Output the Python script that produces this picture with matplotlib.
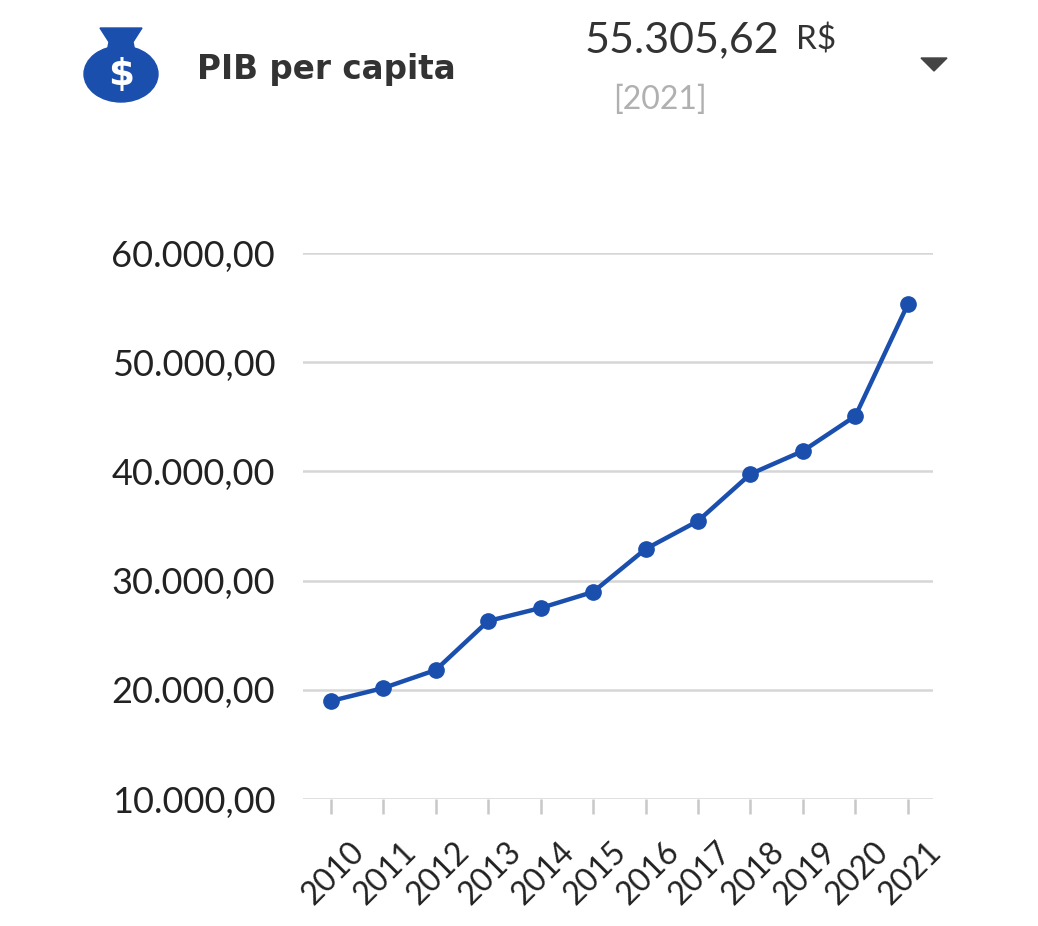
import numpy as np
import matplotlib.pyplot as plt
import matplotlib.transforms as mtransforms
from matplotlib.patches import Ellipse, Polygon
from matplotlib.ticker import FuncFormatter

# Data
anos = ["2010", "2011", "2012", "2013", "2014", "2015",
        "2016", "2017", "2018", "2019", "2020", "2021"]
pib = [18970, 20160, 21810, 26300, 27490, 28960,
       32890, 35460, 39760, 41870, 45070, 55305.62]
y_ticks = [10000, 20000, 30000, 40000, 50000, 60000]

W, H = 1038, 926
blue = "#1b4fae"
dark = "#333333"

plt.rcParams["font.family"] = ["Lato", "DejaVu Sans"]

fig = plt.figure(figsize=(W / 100, H / 100), dpi=100)
fig.patch.set_facecolor("white")


def fx(px):
    return px / W


def fy(py):
    return 1 - py / H


def br_num(v, p):
    return f"{v:,.2f}".replace(",", "X").replace(".", ",").replace("X", ".")


# Main chart
ax = fig.add_axes([fx(303), fy(799), fx(933) - fx(303), fy(253) - fy(799)])
x = np.arange(len(anos))
ax.plot(x, pib, color=blue, lw=3.2, marker="o", ms=11, clip_on=False, zorder=3)
ax.set_xlim(-0.53, 11.48)
ax.set_ylim(10000, 60000)
ax.set_yticks(y_ticks)
ax.yaxis.set_major_formatter(FuncFormatter(br_num))
ax.set_xticks(x)
ax.set_xticklabels(anos, rotation=45, ha="right", rotation_mode="anchor")
ax.grid(axis="y", color="#d6d6d6", lw=1.8)
ax.set_axisbelow(True)
for s in ax.spines.values():
    s.set_visible(False)
ax.tick_params(axis="y", length=0, labelsize=26, pad=20, labelcolor="#222222")
ax.tick_params(axis="x", length=11, width=1.8, color="#c8c8c8", labelsize=23,
               pad=10, labelcolor="#222222")
offset = mtransforms.ScaledTranslation(0.18, -0.08, fig.dpi_scale_trans)
for lab in ax.get_xticklabels():
    lab.set_transform(lab.get_transform() + offset)

# Header texts
fig.text(fx(197), fy(70), "PIB per capita", fontsize=23.5, fontweight="bold",
         color=dark, va="center", ha="left", family="DejaVu Sans")
fig.text(fx(585), fy(40), "55.305,62", fontsize=31, color=dark,
         va="center", ha="left")
fig.text(fx(796), fy(40), "R$", fontsize=24, color=dark,
         va="center", ha="left")
fig.text(fx(613), fy(100), "[2021]", fontsize=23, color="#b0b0b0",
         va="center", ha="left")

# Dropdown triangle
fig.patches.append(Polygon([[fx(921), fy(58)], [fx(947), fy(58)], [fx(934), fy(71)]],
                           closed=True, transform=fig.transFigure, color="#444444"))

# Money bag icon
icon = fig.add_axes([fx(80), fy(106), fx(82), fy(20) - fy(106)])
icon.set_xlim(80, 162)
icon.set_ylim(106, 20)
icon.axis("off")
icon.add_patch(Ellipse((121, 74), 74, 56, color=blue))
icon.add_patch(Polygon([[100, 28], [142, 28], [133, 42], [135, 52], [107, 52], [109, 42]],
                       closed=True, color=blue))
icon.text(121, 75, "$", fontsize=27, fontweight="bold", color="white",
          ha="center", va="center", family="DejaVu Sans")

fig.savefig("out.png", dpi=100, facecolor="white")
